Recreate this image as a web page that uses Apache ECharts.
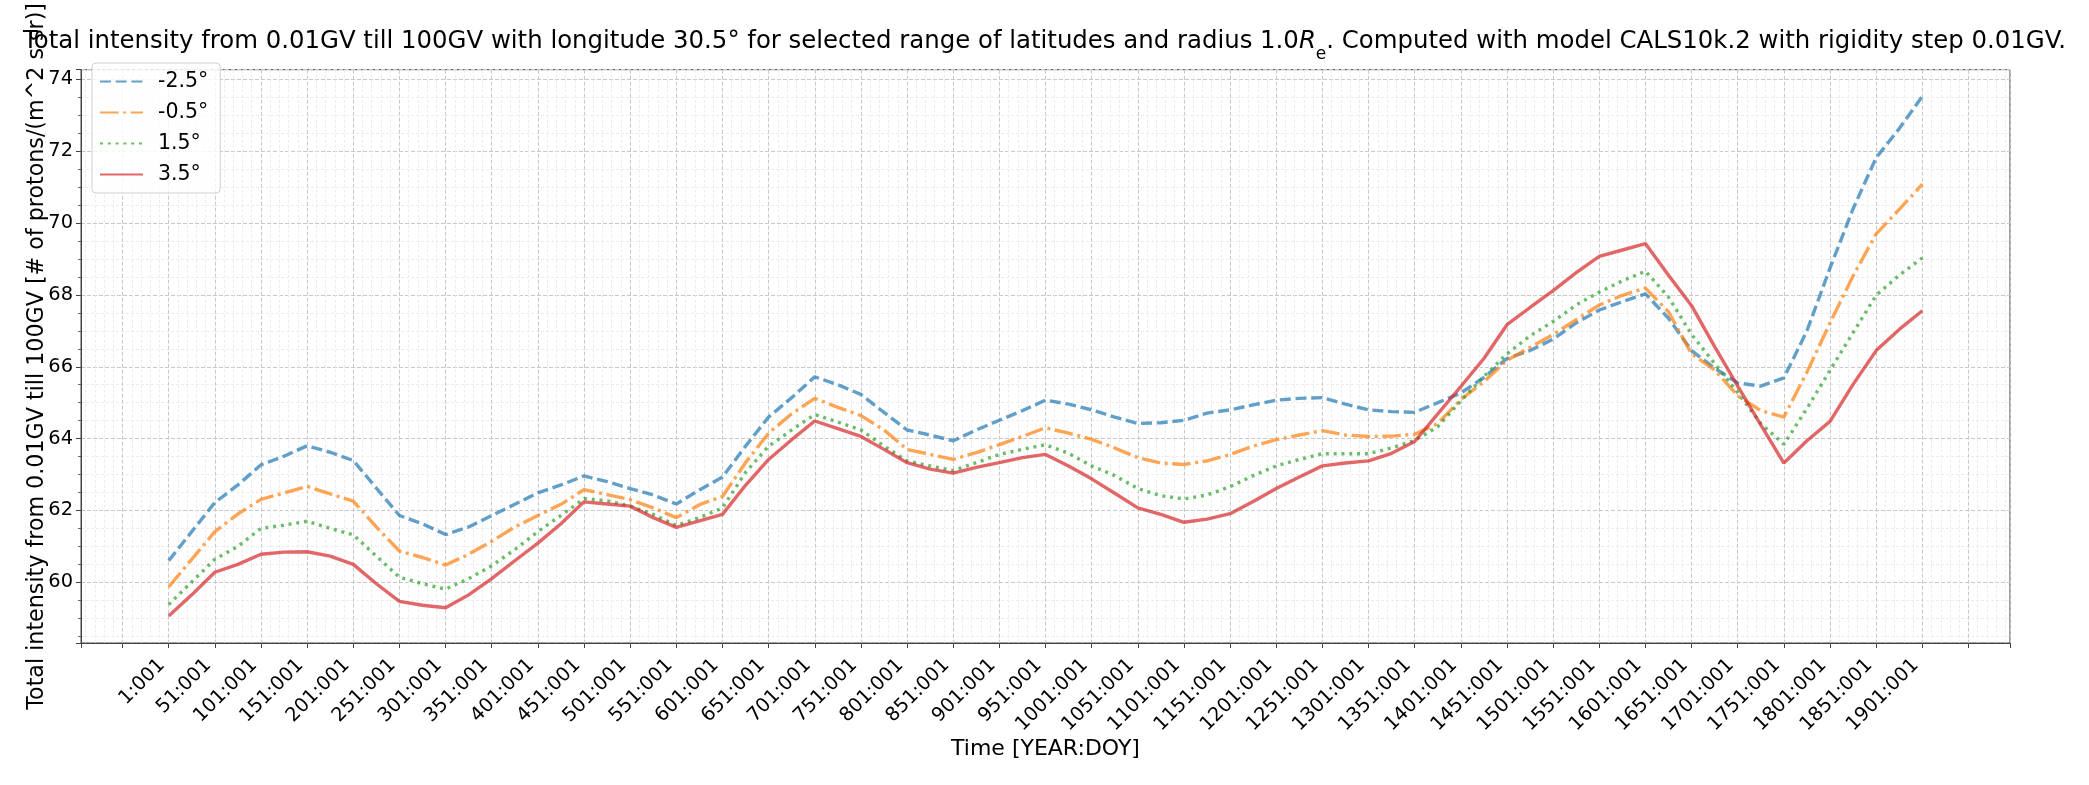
<!DOCTYPE html>
<html>
<head>
<meta charset="utf-8">
<script src="https://cdn.jsdelivr.net/npm/echarts@6/dist/echarts.min.js"></script>
<style>
html,body{margin:0;padding:0;background:#fff;}
#chart{width:2089px;height:785px;}
</style>
</head>
<body>
<div id="chart"></div>
<script>
// Years (YEAR of the YEAR:DOY time stamp, DOY = 001)
const years = [1,26,51,76,101,126,151,176,201,226,251,276,301,326,351,376,401,426,451,
  476,501,526,551,576,601,626,651,676,701,726,751,776,801,826,851,876,901,926,951,
  976,1001,1026,1051,1076,1101,1126,1151,1176,1201,1226,1251,1276,1301,1326,1351,1376,1401,1426,
  1451,1476,1501,1526,1551,1576,1601,1626,1651,1676,1701,1726,1751,1776,1801,1826,1851,1876,1901];

const seriesNames = ['-2.5°', '-0.5°', '1.5°', '3.5°'];

const latMinus25 = [60.60,61.41,62.22,62.71,63.27,63.51,63.80,63.62,63.39,62.62,61.86,61.63,61.33,61.54,61.86,62.17,62.49,62.71,62.96,
  62.80,62.61,62.43,62.18,62.57,62.93,63.79,64.60,65.14,65.72,65.50,65.23,64.73,64.24,64.10,63.94,64.24,64.51,64.78,65.07,
  64.96,64.80,64.60,64.42,64.44,64.51,64.71,64.80,64.94,65.07,65.12,65.14,64.96,64.80,64.75,64.73,65.00,65.27,
  65.70,66.23,66.45,66.77,67.22,67.58,67.81,68.03,67.35,66.45,65.96,65.55,65.46,65.69,67.00,68.75,70.40,71.82,72.63,73.53];

const latMinus05 = [59.87,60.64,61.41,61.90,62.31,62.49,62.67,62.46,62.26,61.54,60.87,60.69,60.48,60.78,61.14,61.54,61.86,62.17,62.58,
  62.44,62.30,62.07,61.80,62.16,62.39,63.33,64.15,64.69,65.12,64.87,64.64,64.24,63.70,63.56,63.42,63.61,63.83,64.06,64.30,
  64.15,63.98,63.74,63.47,63.32,63.28,63.38,63.56,63.79,63.97,64.10,64.22,64.10,64.06,64.07,64.12,64.42,65.09,65.58,
  66.18,66.54,66.90,67.31,67.72,67.99,68.19,67.53,66.36,65.91,65.19,64.78,64.60,65.85,67.22,68.53,69.70,70.38,71.08];

const latPlus15 = [59.38,60.01,60.64,61.00,61.50,61.59,61.70,61.50,61.32,60.73,60.14,59.96,59.81,60.10,60.46,60.91,61.41,61.86,62.33,
  62.27,62.12,61.89,61.58,61.80,62.07,63.06,63.79,64.24,64.67,64.46,64.24,63.79,63.38,63.24,63.11,63.33,63.56,63.70,63.83,
  63.59,63.24,62.97,62.61,62.41,62.32,62.43,62.66,62.97,63.24,63.42,63.58,63.58,63.58,63.74,63.95,64.33,65.05,65.73,
  66.36,66.86,67.26,67.72,68.08,68.39,68.66,67.94,66.90,66.09,65.28,64.42,63.84,64.84,65.90,66.95,67.99,68.55,69.03];

const latPlus35 = [59.06,59.65,60.28,60.50,60.78,60.84,60.85,60.73,60.50,59.96,59.47,59.36,59.29,59.65,60.10,60.60,61.09,61.63,62.24,
  62.18,62.12,61.80,61.53,61.71,61.89,62.70,63.42,63.97,64.49,64.28,64.06,63.70,63.33,63.15,63.04,63.20,63.33,63.47,63.56,
  63.24,62.88,62.48,62.07,61.89,61.67,61.76,61.91,62.25,62.61,62.93,63.24,63.32,63.38,63.59,63.92,64.69,65.45,66.23,
  67.17,67.65,68.12,68.62,69.07,69.25,69.43,68.55,67.70,66.56,65.46,64.38,63.32,63.94,64.48,65.51,66.45,67.04,67.56];

const yTickLabels = [60, 62, 64, 66, 68, 70, 72, 74];

const allSeries = [latMinus25, latMinus05, latPlus15, latPlus35];
const colors = ['rgba(31,119,180,0.7)', 'rgba(255,127,14,0.7)', 'rgba(44,160,44,0.7)', 'rgba(214,39,40,0.7)'];
const dashes = [[11, 4.7], [18.5, 4.6, 3, 4.6], [3, 4.8], 'solid'];

const FONT = 'DejaVu Sans';
const chart = echarts.init(document.getElementById('chart'), null, {renderer: 'canvas'});

// x coordinate = years elapsed since year 1 (so labels read YEAR:001)
const series = allSeries.map((vals, i) => ({
  name: seriesNames[i],
  type: 'line',
  symbol: 'none',
  animation: false,
  data: vals.map((v, k) => [years[k] - years[0], v]),
  itemStyle: {color: colors[i]},
  lineStyle: {color: colors[i], width: 3.4, type: dashes[i], cap: 'butt'},
  z: 3 + i
}));

chart.setOption({
  backgroundColor: '#ffffff',
  animation: false,
  title: {
    text: 'Total intensity from 0.01GV till 100GV with longitude 30.5° for selected range of latitudes and radius 1.0{it|R}{sub|e}. Computed with model CALS10k.2 with rigidity step 0.01GV.',
    left: 'center',
    top: 25,
    textStyle: {
      fontFamily: FONT, fontSize: 24.4, fontWeight: 'normal', color: '#000',
      rich: {
        it: {fontFamily: FONT, fontSize: 24.4, fontStyle: 'italic', color: '#000'},
        sub: {fontFamily: FONT, fontSize: 17, color: '#000', verticalAlign: 'bottom', padding: [0, 0, -9, 0]}
      }
    }
  },
  legend: {
    orient: 'vertical',
    left: 92,
    top: 63,
    padding: [8, 12, 8, 7],
    itemGap: 10,
    itemWidth: 43,
    itemHeight: 21,
    borderColor: '#d0d0d0',
    borderWidth: 1,
    borderRadius: 4,
    backgroundColor: 'rgba(255,255,255,0.8)',
    itemStyle: {opacity: 0},
    textStyle: {fontFamily: FONT, fontSize: 20.5, color: '#000', padding: [0, 0, 0, 10]},
    data: seriesNames
  },
  grid: {
    left: 81, right: 79, top: 53, bottom: 142,
    show: true, borderColor: '#444', borderWidth: 1, backgroundColor: 'transparent'
  },
  xAxis: {
    type: 'value',
    min: -95,
    max: 1995,
    minInterval: 50,
    maxInterval: 50,
    name: 'Time [YEAR:DOY]',
    nameLocation: 'middle',
    nameGap: 95,
    nameMoveOverlap: false,
    nameTextStyle: {fontFamily: FONT, fontSize: 22, color: '#000'},
    axisLine: {show: true, onZero: false, lineStyle: {color: '#444', width: 1}},
    axisTick: {show: true, length: 5, lineStyle: {color: '#444', width: 1}},
    minorTick: {show: false, splitNumber: 5},
    axisLabel: {
      rotate: 45, margin: 26, align: 'right', verticalAlign: 'bottom',
      fontFamily: FONT, fontSize: 19.4, color: '#000',
      formatter: v => (v >= 0 && v <= 1900 && Math.abs(v % 50) < 1e-6) ? (Math.round(v) + 1) + ':001' : ''
    },
    splitLine: {show: true, lineStyle: {color: '#c8c8c8', width: 1, type: [4, 2]}},
    minorSplitLine: {show: true, lineStyle: {color: '#ececec', width: 1, type: [3, 2]}}
  },
  yAxis: {
    type: 'value',
    min: 58.31,
    max: 74.27,
    minInterval: 2,
    maxInterval: 2,
    name: 'Total intensity from 0.01GV till 100GV [# of protons/(m^2 s sr)]',
    nameLocation: 'middle',
    nameGap: 33,
    nameMoveOverlap: false,
    nameTextStyle: {fontFamily: FONT, fontSize: 22.2, color: '#000'},
    axisLine: {show: true, onZero: false, lineStyle: {color: '#444', width: 1}},
    axisTick: {show: true, length: 5, lineStyle: {color: '#444', width: 1}},
    minorTick: {show: true, splitNumber: 4, length: 3, lineStyle: {color: '#444', width: 0.8}},
    axisLabel: {
      margin: 8, fontFamily: FONT, fontSize: 19.4, color: '#000',
      formatter: v => yTickLabels.indexOf(Math.round(v * 1000) / 1000) >= 0 ? String(Math.round(v)) : ''
    },
    splitLine: {show: true, lineStyle: {color: '#c8c8c8', width: 1, type: [4, 2]}},
    minorSplitLine: {show: true, lineStyle: {color: '#ececec', width: 1, type: [3, 2]}}
  },
  series: series
});
</script>
</body>
</html>
